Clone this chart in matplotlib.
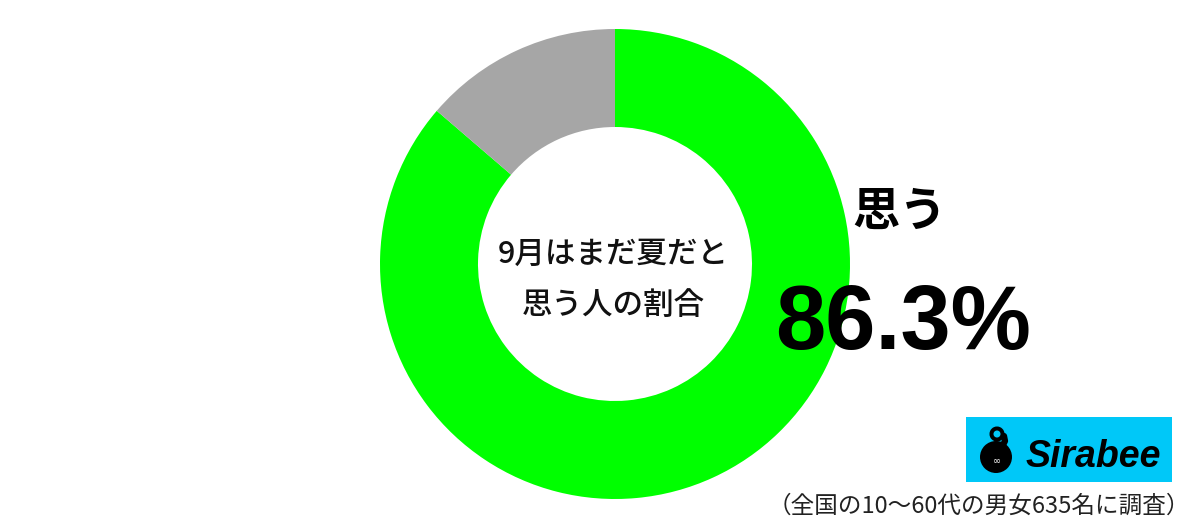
import matplotlib.pyplot as plt
from matplotlib.patches import Rectangle, Circle, Wedge

plt.rcParams['font.family'] = ['Noto Sans CJK JP', 'DejaVu Sans']

labels = ['思う', '思わない']
values = [86.3, 13.7]
colors = ['#00ff00', '#a6a6a6']
title_lines = '9月はまだ夏だと\n思う人の割合'
main_label = '思う'
main_value = '86.3%'
note = '（全国の10〜60代の男女635名に調査）'

W, H = 1200, 522
fig = plt.figure(figsize=(W / 100, H / 100), dpi=100)
ax = fig.add_axes([0, 0, 1, 1])
ax.set_xlim(0, W)
ax.set_ylim(0, H)
ax.set_aspect('equal')
ax.axis('off')

# donut
cx, cy = 615, H - 264
ax.pie(values, colors=colors, startangle=90, counterclock=False,
       center=(cx, cy), radius=235,
       wedgeprops=dict(width=98, linewidth=0))
ax.set_xlim(0, W)
ax.set_ylim(0, H)

ax.text(cx - 2, H - 280, title_lines, ha='center', va='center', fontsize=22,
        fontweight='medium', linespacing=1.85, color='#111111')

ax.text(900, H - 212, main_label, ha='center', va='center', fontsize=34,
        fontweight='bold', color='black')
ax.text(903, H - 326, main_value, ha='center', va='center', fontsize=65,
        fontweight='bold', family=['Liberation Sans', 'DejaVu Sans'],
        color='black')

# logo
ax.add_patch(Rectangle((966, H - 482), 206, 65, color='#00c8f8', lw=0))
ax.add_patch(Circle((996, H - 457), 16, color='black', lw=0))
ax.add_patch(Wedge((997, H - 434), 7.5, 0, 360, width=4, color='black', lw=0))
ax.plot([1004, 1005, 1003], [H - 436, H - 441, H - 445], color='black', lw=4.5,
        solid_capstyle='round')
ax.text(997, H - 461, '∞', ha='center', va='center', fontsize=7,
        color='white', family=['DejaVu Sans'])
ax.text(1093, H - 457, 'Sirabee', ha='center', va='center', fontsize=27,
        fontweight='bold', fontstyle='italic',
        family=['Liberation Sans', 'DejaVu Sans'], color='black')

ax.text(1190, H - 506, note, ha='right', va='center', fontsize=17,
        color='#222222')

fig.savefig('out.png', dpi=100)
